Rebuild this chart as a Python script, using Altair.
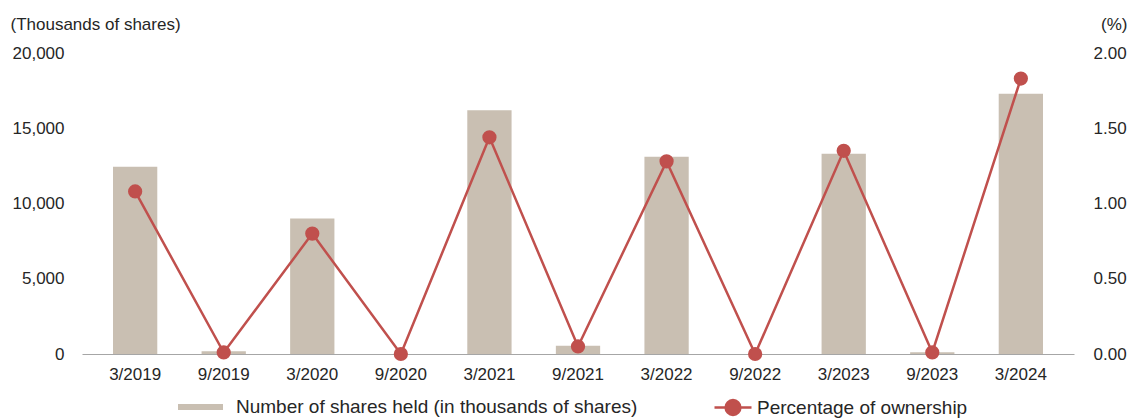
import altair as alt
import pandas as pd

periods = ["3/2019", "9/2019", "3/2020", "9/2020", "3/2021", "9/2021",
           "3/2022", "9/2022", "3/2023", "9/2023", "3/2024"]
shares_held = [12450, 180, 9000, 0, 16200, 550, 13100, 0, 13300, 120, 17300]
ownership_pct = [1.08, 0.01, 0.80, 0.00, 1.44, 0.05, 1.28, 0.00, 1.35, 0.01, 1.83]
bar_series = "Number of shares held (in thousands of shares)"
line_series = "Percentage of ownership"

BAR_COLOR = "#c9bfb2"
LINE_COLOR = "#c0504d"
TEXT = "#262626"
FONT = "Liberation Sans"

df = pd.DataFrame({
    "period": periods,
    "shares": shares_held,
    "pct": ownership_pct,
    "bar_series": [bar_series] * len(periods),
    "line_series": [line_series] * len(periods),
})

x_enc = alt.X(
    "period:N", sort=periods, title=None,
    scale=alt.Scale(paddingInner=0.5, paddingOuter=0.35),
    axis=alt.Axis(labelAngle=0, ticks=False, domainColor="#a6a6a6", domainWidth=1.2,
                  labelFontSize=17, labelColor=TEXT, labelPadding=12, labelFont=FONT),
)

bars = alt.Chart(df).mark_bar().encode(
    x=x_enc,
    y=alt.Y("shares:Q", scale=alt.Scale(domain=[0, 20000]),
            axis=alt.Axis(values=[0, 5000, 10000, 15000, 20000], format=",.0f",
                          grid=False, domain=False, ticks=False, labelPadding=18,
                          labelFontSize=17, labelColor=TEXT, labelFont=FONT,
                          title="(Thousands of shares)", titleAngle=0, titleAlign="left",
                          titleBaseline="middle", titleX=-72, titleY=-29,
                          titleFontSize=17, titleFontWeight="normal", titleColor=TEXT,
                          titleFont=FONT)),
    fill=alt.Fill("bar_series:N", scale=alt.Scale(domain=[bar_series], range=[BAR_COLOR]),
                  legend=alt.Legend(title=None, orient="none", legendX=96, legendY=331.5,
                                    symbolType="M-1,-0.133L1,-0.133L1,0.133L-1,0.133Z",
                                    symbolSize=2025, symbolStrokeWidth=0,
                                    symbolFillColor=BAR_COLOR,
                                    labelFontSize=19, labelColor=TEXT, labelFont=FONT,
                                    labelOffset=13, padding=0, labelLimit=700)),
)

line = alt.Chart(df).mark_line(
    strokeWidth=2.5,
    point=alt.OverlayMarkDef(filled=True, fill=LINE_COLOR, stroke=LINE_COLOR, size=150, opacity=1),
).encode(
    x=x_enc,
    y=alt.Y("pct:Q", scale=alt.Scale(domain=[0, 2]),
            axis=alt.Axis(orient="right", values=[0, 0.5, 1.0, 1.5, 2.0], format=".2f",
                          grid=False, domain=False, ticks=False, labelPadding=19,
                          labelFontSize=17, labelColor=TEXT, labelFont=FONT,
                          title="(%)", titleAngle=0, titleAlign="right",
                          titleBaseline="middle", titleX=53, titleY=-29,
                          titleFontSize=17, titleFontWeight="normal", titleColor=TEXT,
                          titleFont=FONT)),
    stroke=alt.Stroke("line_series:N", scale=alt.Scale(domain=[line_series], range=[LINE_COLOR]),
                      legend=alt.Legend(title=None, orient="none", legendX=631, legendY=334.5,
                                        symbolType="M-1,0L1,0M0.4,0A0.4,0.4 0 1,1 -0.4,0A0.4,0.4 0 1,1 0.4,0",
                                        symbolSize=1369, symbolStrokeWidth=2.5,
                                        symbolFillColor=LINE_COLOR, symbolStrokeColor=LINE_COLOR,
                                        labelFontSize=19, labelColor=TEXT, labelFont=FONT,
                                        labelOffset=4, padding=0, labelLimit=700)),
)

chart = alt.layer(bars, line).resolve_scale(y="independent").properties(
    width=992, height=301,
    padding={"left": 82, "top": 53, "right": 56, "bottom": 65},
    autosize=alt.AutoSizeParams(type="none"),
).configure(font=FONT, background="white").configure_view(stroke=None)

chart.save("out.html", embed_options={"renderer": "svg", "actions": False})
